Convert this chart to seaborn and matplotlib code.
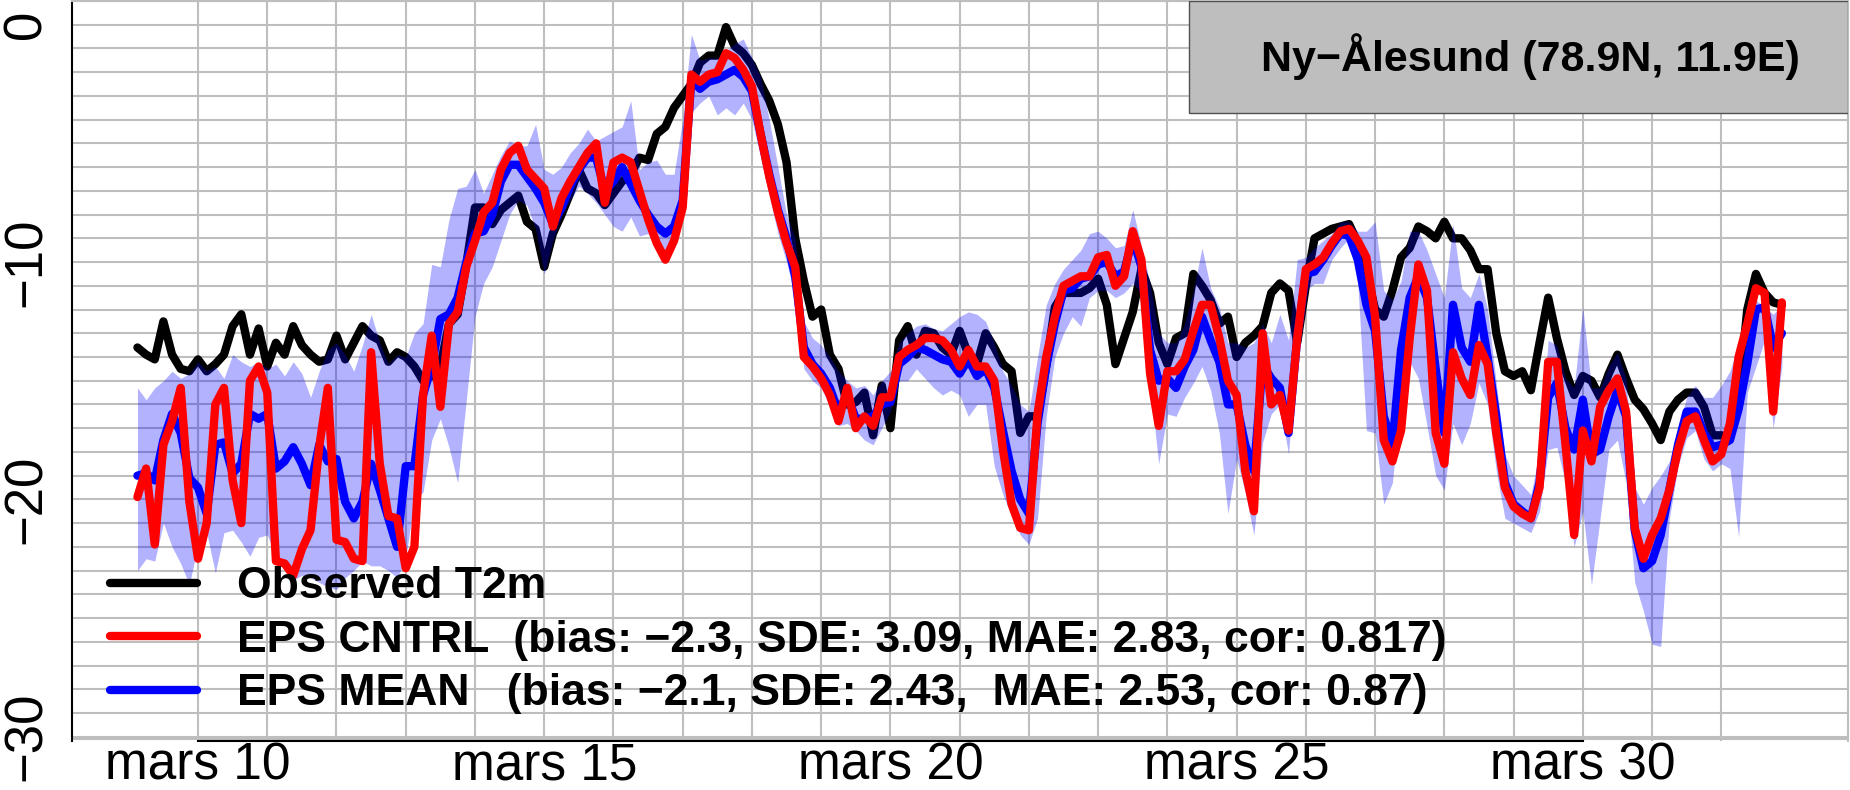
import numpy as np
import pandas as pd
import matplotlib
matplotlib.use('Agg')
import matplotlib.pyplot as plt
import seaborn as sns
from matplotlib.patches import Rectangle

# 3-hourly values, 9 March 03:00 -> 1 April 21:00 (one row per day)
times = pd.date_range('2018-03-09 03:00', periods=191, freq='3h')

obs = [
    -13.6, -13.9, -14.1, -12.5, -13.9, -14.5, -14.6,
    -14.1, -14.6, -14.3, -13.9, -12.7, -12.2, -13.9, -12.8,
    -14.4, -13.4, -13.9, -12.7, -13.5, -13.9, -14.2, -14.1,
    -13.1, -14.1, -13.4, -12.7, -13.1, -13.3, -14.2, -13.8,
    -14.0, -14.4, -15.0, -14.8, -14.4, -12.6, -12.2, -10.1,
    -7.7, -7.7, -8.4, -7.8, -7.5, -7.2, -8.3, -8.6,
    -10.2, -8.8, -8.0, -7.1, -6.1, -6.9, -7.1, -7.6,
    -7.1, -6.6, -6.3, -5.6, -5.7, -4.6, -4.3, -3.5,
    -3.0, -2.5, -1.6, -1.3, -1.3, -0.1, -0.9, -1.2,
    -1.7, -2.5, -3.2, -4.2, -5.8, -9.0, -10.8, -12.3,
    -12.0, -13.9, -14.5, -16.0, -15.9, -15.5, -17.3, -15.2,
    -17.0, -13.3, -12.7, -13.9, -12.9, -13.0, -13.6, -13.9,
    -12.9, -13.9, -14.3, -13.0, -13.6, -14.3, -14.6, -17.2,
    -16.5, -16.5, -14.4, -11.9, -11.3, -11.3, -11.3, -11.1,
    -10.7, -11.8, -14.3, -13.2, -12.1, -10.3, -11.3, -13.4,
    -14.3, -13.2, -13.0, -10.5, -11.0, -11.6, -12.6, -12.3,
    -14.0, -13.4, -13.1, -12.7, -11.3, -10.9, -11.2, -13.4,
    -11.0, -9.0, -8.8, -8.6, -8.5, -8.4, -9.2, -10.4,
    -12.0, -12.3, -11.2, -9.8, -9.4, -8.5, -8.7, -9.0,
    -8.3, -9.0, -9.0, -9.5, -10.3, -10.3, -13.0, -14.6,
    -14.8, -14.6, -15.4, -13.4, -11.5, -13.2, -14.6, -15.6,
    -14.8, -15.0, -15.7, -14.7, -13.9, -14.9, -15.8, -16.2,
    -16.8, -17.5, -16.3, -15.8, -15.5, -15.5, -16.1, -17.3,
    -17.3, -17.4, -15.7, -12.0, -10.5, -11.3, -11.7, -11.8,
]

cntrl = [
    -19.9, -18.7, -21.9, -17.7, -16.7, -15.3, -20.1,
    -22.5, -21.0, -16.0, -15.3, -19.2, -21.0, -15.0, -14.4,
    -15.5, -22.6, -22.7, -23.2, -22.1, -21.3, -17.8, -15.3,
    -21.7, -21.8, -22.5, -22.6, -13.8, -18.5, -20.7, -20.8,
    -22.9, -22.0, -15.6, -13.1, -16.1, -12.6, -12.1, -10.2,
    -9.1, -7.9, -7.5, -6.1, -5.4, -5.1, -6.1, -6.5,
    -6.9, -8.5, -7.3, -6.6, -6.0, -5.4, -5.0, -7.5,
    -5.8, -5.6, -5.8, -7.0, -8.2, -9.2, -9.9, -9.1,
    -7.7, -2.1, -2.4, -2.1, -2.0, -1.2, -1.4, -1.9,
    -2.6, -4.6, -6.4, -7.9, -9.2, -10.2, -14.0, -14.4,
    -14.9, -15.6, -16.7, -15.3, -17.0, -16.5, -16.9, -15.7,
    -15.7, -14.0, -13.7, -13.5, -13.2, -13.2, -13.3, -13.7,
    -14.4, -13.7, -14.4, -14.4, -15.0, -17.9, -20.2, -21.2,
    -21.3, -16.4, -14.0, -12.3, -11.0, -10.8, -10.6, -10.6,
    -9.8, -9.7, -11.0, -10.6, -8.7, -9.9, -14.7, -16.9,
    -14.6, -14.6, -14.1, -12.9, -11.8, -11.8, -13.2, -15.0,
    -15.6, -18.8, -20.5, -13.0, -16.0, -15.6, -17.1, -13.2,
    -10.3, -10.1, -9.8, -9.2, -8.7, -8.6, -9.1, -9.8,
    -12.3, -17.5, -18.4, -17.1, -13.2, -10.1, -11.2, -17.2,
    -18.5, -13.8, -14.9, -15.6, -13.5, -14.3, -17.2, -19.5,
    -20.3, -20.6, -20.8, -19.5, -14.2, -14.2, -17.7, -21.5,
    -17.1, -18.4, -16.1, -15.4, -14.9, -16.3, -21.2, -22.5,
    -21.5, -20.8, -19.6, -17.9, -16.7, -16.5, -17.5, -18.4,
    -18.1, -16.8, -14.0, -12.6, -11.1, -11.3, -16.3, -11.7,
]

ens_mean = [
    -19.0, -18.9, -19.2, -17.5, -16.4, -17.2, -19.1,
    -19.5, -20.6, -17.7, -17.6, -18.9, -18.5, -16.4, -16.6,
    -16.4, -18.7, -18.4, -17.8, -18.5, -19.4, -17.7, -18.4,
    -18.3, -20.1, -20.8, -20.1, -18.5, -19.6, -20.8, -22.0,
    -18.6, -18.6, -15.6, -14.4, -12.4, -12.2, -11.5, -10.0,
    -8.8, -8.7, -8.0, -6.6, -5.9, -5.9, -6.4, -6.9,
    -7.5, -8.4, -7.7, -6.8, -6.1, -5.6, -5.6, -7.0,
    -6.6, -6.0, -6.7, -7.4, -8.0, -8.5, -8.8, -8.5,
    -7.4, -2.3, -2.7, -2.4, -2.3, -2.1, -1.9, -2.2,
    -2.8, -4.6, -6.3, -7.8, -9.0, -10.6, -13.6, -14.3,
    -14.7, -15.3, -16.3, -15.6, -16.6, -16.6, -16.5, -16.0,
    -15.9, -14.3, -14.0, -13.6, -13.7, -13.9, -14.1, -14.2,
    -14.7, -14.1, -14.8, -14.5, -15.3, -17.1, -18.8, -20.0,
    -20.6, -16.8, -14.4, -12.6, -11.2, -11.1, -10.7, -10.6,
    -10.1, -10.0, -10.6, -10.4, -9.0, -10.2, -13.7, -15.0,
    -14.9, -15.3, -14.4, -13.7, -12.3, -13.3, -14.2, -16.0,
    -16.0, -17.7, -18.8, -14.3, -14.9, -15.3, -17.2, -13.2,
    -10.5, -10.4, -9.9, -9.3, -8.8, -8.9, -9.9, -11.8,
    -12.9, -16.5, -17.7, -13.7, -11.5, -10.6, -11.5, -14.5,
    -17.2, -11.8, -13.6, -14.2, -11.8, -14.0, -16.5, -19.3,
    -20.2, -20.5, -20.8, -19.3, -15.7, -15.1, -17.0, -17.9,
    -15.8, -18.1, -17.9, -16.5, -15.4, -16.5, -21.3, -22.9,
    -22.6, -21.5, -19.6, -17.7, -16.3, -16.3, -17.2, -17.8,
    -17.7, -17.5, -16.2, -14.3, -12.0, -11.9, -13.6, -13.0,
]

ens_max = [
    -15.3, -15.8, -15.3, -15.0, -14.6, -14.9, -14.7,
    -14.2, -14.6, -14.4, -14.9, -13.9, -14.2, -14.4, -14.2,
    -14.5, -14.3, -14.8, -14.2, -14.7, -15.7, -14.6, -13.7,
    -13.4, -13.9, -14.6, -13.5, -12.2, -13.4, -14.3, -13.9,
    -14.0, -13.0, -12.6, -10.1, -10.2, -8.2, -6.9, -6.8,
    -6.1, -7.1, -6.3, -5.5, -4.9, -5.1, -5.1, -4.2,
    -6.1, -6.3, -6.0, -5.4, -5.0, -4.4, -4.9, -4.7,
    -4.5, -4.3, -3.2, -6.1, -5.8, -5.7, -6.3, -6.3,
    -4.0, -0.4, -1.5, -1.4, -1.4, -1.1, -0.8, -0.6,
    -1.4, -2.2, -4.0, -6.0, -8.0, -9.0, -12.5, -13.2,
    -13.5, -14.0, -14.6, -15.0, -15.3, -15.2, -15.6, -15.0,
    -14.6, -13.4, -13.0, -12.7, -12.6, -12.8, -12.9, -12.6,
    -12.3, -12.1, -12.2, -12.5, -13.4, -14.6, -15.2, -16.0,
    -16.3, -14.0, -11.8, -10.9, -10.3, -9.9, -9.5, -8.8,
    -8.7, -9.0, -9.4, -9.3, -7.8, -9.3, -10.9, -13.0,
    -13.4, -13.4, -12.6, -11.2, -9.4, -11.1, -11.9, -13.4,
    -13.4, -13.6, -13.4, -12.6, -13.4, -12.2, -13.3, -9.9,
    -9.8, -9.4, -9.1, -8.8, -8.3, -8.3, -8.7, -8.7,
    -8.3, -11.2, -11.6, -10.8, -8.7, -8.7, -9.5, -10.5,
    -11.5, -8.4, -11.1, -11.5, -10.5, -12.0, -15.1, -18.1,
    -19.0, -19.4, -19.8, -18.0, -13.3, -13.5, -14.9, -15.3,
    -11.9, -15.3, -15.3, -14.4, -13.8, -14.9, -19.5, -20.2,
    -19.5, -19.0, -18.4, -17.0, -15.7, -15.2, -15.7, -15.7,
    -15.2, -14.6, -13.4, -11.9, -11.6, -11.9, -12.2, -11.8,
]

ens_min = [
    -23.0, -22.5, -22.6, -21.0, -22.0, -22.7, -23.6,
    -21.9, -21.4, -23.1, -21.4, -21.3, -21.8, -22.4, -21.6,
    -21.5, -22.4, -23.0, -23.4, -23.2, -23.3, -23.5, -23.7,
    -23.8, -23.3, -23.0, -22.6, -22.8, -22.8, -23.0, -23.3,
    -22.5, -20.0, -19.7, -17.5, -16.6, -17.8, -19.3, -15.8,
    -12.3, -10.9, -10.2, -9.1, -8.0, -7.4, -7.6, -8.6,
    -10.5, -9.1, -8.1, -7.4, -6.8, -7.1, -7.5, -8.0,
    -8.5, -8.7, -8.1, -8.9, -8.8, -9.4, -9.6, -9.1,
    -7.7, -3.7, -3.3, -3.0, -3.8, -3.5, -3.8, -3.3,
    -4.0, -5.6, -7.2, -8.8, -10.0, -11.5, -14.5, -15.0,
    -15.3, -16.1, -16.9, -16.8, -17.1, -17.5, -17.7, -17.0,
    -16.3, -15.0, -15.0, -14.5, -14.9, -15.3, -15.6, -15.4,
    -15.6, -16.5, -16.0, -16.0, -18.6, -19.8, -20.7, -21.5,
    -21.9, -20.8, -16.5, -14.0, -13.0, -12.3, -12.7, -11.5,
    -11.2, -11.2, -11.5, -11.3, -10.9, -11.3, -15.2, -18.5,
    -16.4, -16.5, -15.7, -15.1, -14.4, -15.4, -17.2, -20.6,
    -18.3, -19.7, -21.5, -17.6, -16.4, -16.0, -18.1, -13.4,
    -11.2, -10.9, -10.9, -9.9, -9.4, -9.0, -10.9, -17.1,
    -17.2, -20.2, -19.3, -15.6, -14.2, -14.9, -16.9, -19.0,
    -19.6, -16.8, -17.7, -16.8, -15.1, -16.0, -18.8, -20.8,
    -21.0, -21.2, -21.4, -20.5, -17.9, -17.8, -19.3, -22.0,
    -20.5, -23.6, -20.8, -17.9, -17.5, -19.3, -23.5, -24.7,
    -26.1, -26.2, -20.8, -18.6, -17.4, -17.1, -18.3, -18.8,
    -18.5, -18.7, -21.6, -15.5, -14.4, -13.3, -17.0, -14.4,
]

labels = [
    'Observed T2m',
    'EPS CNTRL  (bias: \u22122.3, SDE: 3.09, MAE: 2.83, cor: 0.817)',
    'EPS MEAN   (bias: \u22122.1, SDE: 2.43,  MAE: 2.53, cor: 0.87)',
]
station = 'Ny\u2212\u00c5lesund (78.9N, 11.9E)'
date_ticks = [10, 15, 20, 25, 30]
date_labels = ['mars 10', 'mars 15', 'mars 20', 'mars 25', 'mars 30']
temp_ticks = [-30, -25, -20, -15, -10, -5, 0]
temp_labels = ['\u221230', '', '\u221220', '', '\u221210', '', '0']

# day of March as a float (April 1 -> 32)
day = (times - pd.Timestamp('2018-03-01')) / pd.Timedelta('1D') + 1
df = pd.DataFrame({'day': day, 'obs': obs, 'cntrl': cntrl, 'mean': ens_mean,
                   'lo': ens_min, 'hi': ens_max})

sns.set_style('white')
plt.rcParams['font.family'] = ['Liberation Sans', 'DejaVu Sans']
plt.rcParams['text.color'] = 'black'
plt.rcParams['xtick.color'] = 'black'
plt.rcParams['ytick.color'] = 'black'

fig = plt.figure(figsize=(18.5, 7.9), dpi=100)
ax = fig.add_axes([72 / 1850, 1 - 741 / 790, 1776 / 1850, 740 / 790])

grey = '#BEBEBE'
for d in range(10, 33):
    ax.axvline(d, color=grey, lw=1.5, zorder=0)
for v in range(-30, 2):
    ax.axhline(v, color=grey, lw=1.5, zorder=0)

lw = 6.0
sns.lineplot(data=df, x='day', y='obs', color='black', linewidth=lw, ax=ax,
             label=labels[0], zorder=2, solid_capstyle='round')
ax.fill_between(df['day'], df['lo'], df['hi'], color='blue', alpha=0.3,
                lw=0, zorder=3)
sns.lineplot(data=df, x='day', y='mean', color='blue', linewidth=lw, ax=ax,
             label=labels[2], zorder=4, solid_capstyle='round')
sns.lineplot(data=df, x='day', y='cntrl', color='red', linewidth=lw, ax=ax,
             label=labels[1], zorder=5, solid_capstyle='round')

ax.set_xlim(8.18, 33.83)
ax.set_ylim(-30.18, 1.0)
ax.set_xlabel('')
ax.set_ylabel('')

ax.set_xticks(date_ticks)
ax.set_xticklabels(date_labels)
ax.set_yticks(temp_ticks)
ax.set_yticklabels(temp_labels, rotation=90, va='center', ha='right')
ax.tick_params(axis='both', length=9.5, width=1.5, color='black',
               labelcolor='black', labelsize=38, direction='out')
# date labels sit tight against the bottom edge, as in the original
ax.tick_params(axis='x', pad=-9, labelsize=37)
ax.tick_params(axis='y', pad=5)

for side in ['top', 'right']:
    ax.spines[side].set_color(grey)
    ax.spines[side].set_linewidth(1.5)
ax.spines['left'].set_color('black')
ax.spines['left'].set_linewidth(1.5)
ax.spines['bottom'].set_color('black')
ax.spines['bottom'].set_linewidth(1.5)
ax.spines['bottom'].set_bounds(10, 30)
ax.axhline(-30.1, color=grey, lw=1.5, zorder=0)

handles, labs = ax.get_legend_handles_labels()
order = [labs.index(l) for l in labels]
leg = ax.legend([handles[i] for i in order], [labs[i] for i in order],
                loc='upper left', bbox_to_anchor=(0.0214, 0.236),
                frameon=False, borderpad=0, borderaxespad=0,
                handlelength=1.95, handletextpad=0.9, labelspacing=0.28,
                prop={'weight': 'bold', 'size': 32}, labelcolor='black')
for h in leg.get_lines():
    h.set_linewidth(lw)
    h.set_solid_capstyle('round')
leg.set_zorder(7)

ax.add_patch(Rectangle((0.629, 0.8486), 0.371, 0.1514, transform=ax.transAxes,
                       facecolor=grey, edgecolor='#505050', lw=1, zorder=6))
ax.text(0.973, 0.9243, station, transform=ax.transAxes, ha='right',
        va='center', fontsize=31, fontweight='bold', color='black', zorder=7)

fig.savefig('out.png', dpi=100)
